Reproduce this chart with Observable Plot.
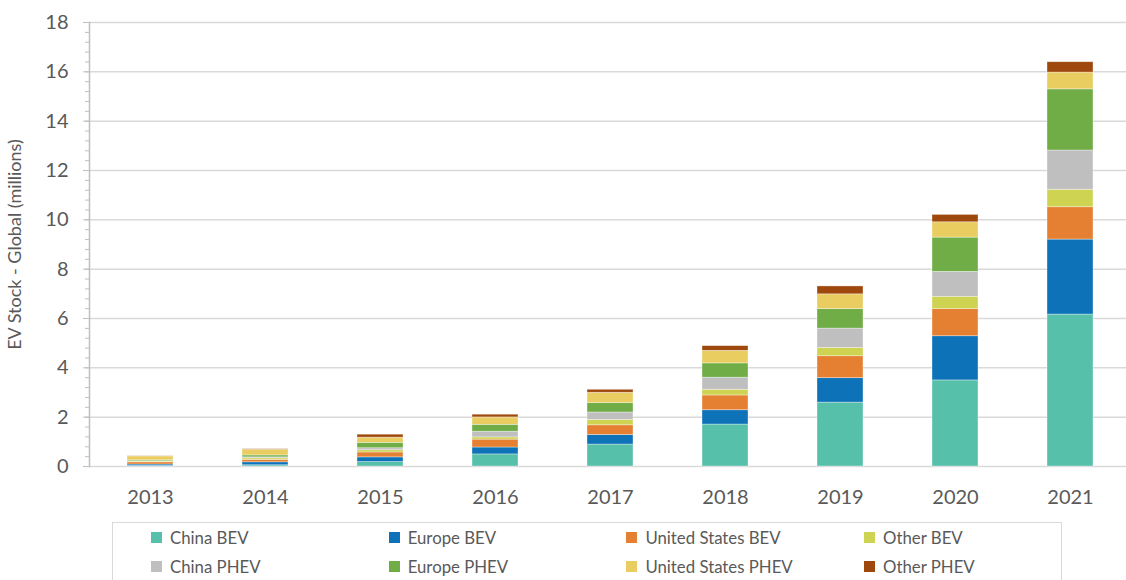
<!DOCTYPE html>
<html>
<head>
<meta charset="utf-8">
<script src="https://cdn.jsdelivr.net/npm/d3@7"></script>
<script src="https://cdn.jsdelivr.net/npm/@observablehq/plot@0.6"></script>
<style>
  html, body { margin: 0; padding: 0; background: #ffffff; overflow: hidden; }
  #wrap { position: relative; width: 1126px; height: 580px; font-family: Lato, "Open Sans", sans-serif; }
  #legend { position: absolute; left: 112px; top: 522px; width: 950px; height: 80px; border: 1px solid #d9d9d9; box-sizing: border-box; background: #fff; }
  .item { position: absolute; height: 18px; display: flex; align-items: center; font-size: 16.8px; color: #595959; white-space: nowrap; }
  .sw { width: 11px; height: 11px; margin-right: 8px; flex: none; }
</style>
</head>
<body>
<div id="wrap"><div id="chart"></div><div id="legend"></div></div>
<script>
// Categories
const years = [2013, 2014, 2015, 2016, 2017, 2018, 2019, 2020, 2021];
const seriesNames = ["China BEV", "Europe BEV", "United States BEV", "Other BEV",
                     "China PHEV", "Europe PHEV", "United States PHEV", "Other PHEV"];
const seriesColors = ["#57c0aa", "#0e72b8", "#e58033", "#ced452",
                      "#bfbfbf", "#70ad47", "#e9cd60", "#9e480e"];

// EV stock in millions, one array per series (values by year)
const chinaBEV    = [0.02, 0.05, 0.18, 0.49, 0.89, 1.70, 2.59, 3.49, 6.16];
const europeBEV   = [0.06, 0.12, 0.19, 0.28, 0.39, 0.58, 0.99, 1.79, 3.04];
const usBEV       = [0.09, 0.10, 0.20, 0.32, 0.39, 0.60, 0.89, 1.10, 1.31];
const otherBEV    = [0.03, 0.06, 0.09, 0.09, 0.22, 0.23, 0.34, 0.50, 0.71];
const chinaPHEV   = [0.01, 0.04, 0.08, 0.23, 0.30, 0.49, 0.78, 1.01, 1.59];
const europePHEV  = [0.04, 0.08, 0.22, 0.28, 0.38, 0.58, 0.79, 1.39, 2.48];
const usPHEV      = [0.16, 0.23, 0.21, 0.30, 0.42, 0.51, 0.60, 0.62, 0.68];
const otherPHEV   = [0.01, 0.02, 0.12, 0.11, 0.12, 0.19, 0.32, 0.30, 0.42];

// Axis ticks
const majorTicks = [0, 2, 4, 6, 8, 10, 12, 14, 16, 18];
const minorStep = 0.4;
const yLabel = "EV Stock - Global (millions)";

const seriesValues = [chinaBEV, europeBEV, usBEV, otherBEV, chinaPHEV, europePHEV, usPHEV, otherPHEV];
const rows = years.flatMap((yr, i) => seriesNames.map((s, j) => ({year: yr, series: s, value: seriesValues[j][i]})));
const minorTicks = d3.range(0, 18 + 1e-9, minorStep);

const chart = Plot.plot({
  width: 1126,
  height: 500,
  marginTop: 22,
  marginBottom: 34,
  marginLeft: 89,
  marginRight: 0,
  style: {fontFamily: "Lato, 'Open Sans', sans-serif", color: "#595959", background: "#ffffff", overflow: "visible"},
  x: {type: "band", domain: years, range: [89, 1131], paddingInner: 0.6, paddingOuter: 0.3},
  y: {domain: [0, 18]},
  color: {domain: seriesNames, range: seriesColors},
  marks: [
    Plot.gridY(majorTicks, {stroke: "#d9d9d9", strokeOpacity: 1, strokeWidth: 1.5}),
    Plot.barY(rows, {x: "year", y: "value", fill: "series", order: seriesNames,
                     stroke: "#ffffff", strokeWidth: 0.7, strokeOpacity: 0.5}),
    Plot.frame({anchor: "left", stroke: "#bfbfbf", strokeWidth: 1.5}),
    Plot.axisY(minorTicks, {tickSize: 4, stroke: "#bfbfbf", tickFormat: () => "", label: null}),
    Plot.axisY(majorTicks, {tickSize: 6, tickPadding: 15, stroke: "#bfbfbf", fontSize: 20, label: null}),
    Plot.axisY([], {label: yLabel, labelAnchor: "center", labelArrow: "none", labelOffset: 81, fontSize: 18}),
    Plot.axisX({tickSize: 0, tickPadding: 23, fontSize: 20, tickFormat: d => String(d), label: null})
  ]
});
document.getElementById("chart").appendChild(chart);

const legend = document.getElementById("legend");
seriesNames.forEach((name, i) => {
  const col = i % 4, row = Math.floor(i / 4);
  const item = document.createElement("div");
  item.className = "item";
  item.style.left = (38 + col * 237.7) + "px";
  item.style.top = (5 + row * 29) + "px";
  const sw = document.createElement("span");
  sw.className = "sw";
  sw.style.background = seriesColors[i];
  const tx = document.createElement("span");
  tx.textContent = name;
  item.appendChild(sw);
  item.appendChild(tx);
  legend.appendChild(item);
});
</script>
</body>
</html>
